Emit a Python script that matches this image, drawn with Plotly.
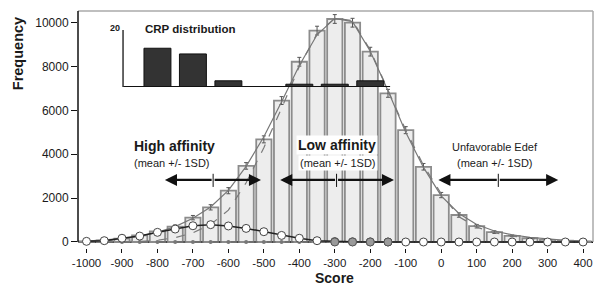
import plotly.graph_objects as go

# ---------------- data ----------------
scores = [-1000, -950, -900, -850, -800, -750, -700, -650, -600, -550, -500, -450, -400,
          -350, -300, -250, -200, -150, -100, -50, 0, 50, 100, 150, 200, 250, 300, 350, 400]
freq = [30, 70, 150, 300, 480, 700, 1110, 1580, 2340, 3470, 4680, 6450, 8220,
        9640, 10170, 10000, 8680, 6780, 5100, 3430, 2140, 1230, 720, 450, 280, 170, 100, 60, 30]
freq_err = [20, 30, 40, 50, 60, 80, 100, 120, 140, 150, 160, 180, 200,
            200, 200, 200, 200, 180, 160, 150, 120, 100, 80, 60, 40, 30, 20, 20, 10]
fit_solid = [40, 80, 150, 270, 440, 700, 1080, 1600, 2350, 3450, 4800, 6400, 8050,
             9450, 10200, 10050, 8700, 6900, 5000, 3400, 2100, 1300, 800, 500, 330, 210, 130, 80, 50]
fit_dashed = [0, 0, 10, 30, 80, 200, 420, 800, 1450, 2700, 4300, 6100, 8000,
              9500, 10200, 10100, 8750, 6900, 5100, 3500, 2200, 1150, 680, 420, 270, 170, 110, 70, 40]
high_aff = [30, 60, 170, 270, 440, 590, 740, 790, 730, 620, 470, 300, 170,
            60, 20, 10, 5, 0, 0, 0, 0, 0, 0, 0, 0, 0, 0, 0, 0]
low_aff_x = [-300, -250, -200, -150]
low_aff = [0, 0, 0, 0]
baseline = [0] * len(scores)

crp_x = [-800, -700, -600, -400, -300, -200]
crp_y = [13.6, 11.6, 2.2, 1.0, 1.0, 2.2]

x_ticks = list(range(-1000, 401, 100))
x_ticktext = ["-1000", "-900", "-800", "-700", "-600", "-500", "-400", "-300",
              "-200", "-100", "0", "100", "200", "300", "400"]
y_ticks = [0, 2000, 4000, 6000, 8000, 10000]
y_ticktext = ["0", "2000", "4000", "6000", "8000", "10000"]

arrows = [  # (left end, centre, right end)
    (-779, -643, -508),
    (-454, -295, -133),
    (-8, 161, 330),
]
arrow_y = 2830

FONT = "Arial, Liberation Sans, sans-serif"

fig = go.Figure()

fig.add_trace(go.Bar(
    x=scores, y=freq, width=43,
    marker=dict(color="#ededed", line=dict(color="#8c8c8c", width=1.8)),
    error_y=dict(type="data", array=freq_err, color="#555", thickness=1, width=2),
    xaxis="x", yaxis="y", showlegend=False))

fig.add_trace(go.Scatter(
    x=scores, y=baseline, mode="lines+markers",
    line=dict(color="#555", width=1, dash="dash"),
    marker=dict(size=4, color="#777"), showlegend=False))

fig.add_trace(go.Scatter(
    x=scores, y=fit_dashed, mode="lines",
    line=dict(color="#7a7a7a", width=1.2, dash="dash"), showlegend=False))

fig.add_trace(go.Scatter(
    x=scores, y=fit_solid, mode="lines",
    line=dict(color="#777", width=1.2), showlegend=False))

fig.add_trace(go.Scatter(
    x=scores, y=high_aff, mode="lines+markers",
    line=dict(color="#222", width=1.5),
    marker=dict(size=8, color="white", line=dict(color="#444", width=1)),
    showlegend=False))

fig.add_trace(go.Scatter(
    x=low_aff_x, y=low_aff, mode="markers",
    marker=dict(size=8, color="#9a9a9a", line=dict(color="#555", width=1)),
    showlegend=False))

# inset CRP distribution
fig.add_trace(go.Bar(
    x=crp_x, y=crp_y, width=76,
    marker=dict(color="#333", line=dict(color="#111", width=1)),
    xaxis="x", yaxis="y2", showlegend=False))

shapes = []
# inset axes
shapes.append(dict(type="line", xref="x", yref="y2", x0=-897, x1=-144, y0=0, y1=0,
                   line=dict(color="#111", width=2)))
shapes.append(dict(type="line", xref="x", yref="y2", x0=-897, x1=-897, y0=0, y1=20,
                   line=dict(color="#333", width=1.5)))
# frame
shapes.append(dict(type="line", xref="paper", yref="paper", x0=0, x1=1, y0=1, y1=1,
                   line=dict(color="#aaa", width=1.5)))
shapes.append(dict(type="line", xref="paper", yref="y", x0=1, x1=1, y0=0, y1=10534,
                   line=dict(color="#aaa", width=1.5)))
shapes.append(dict(type="line", xref="paper", yref="y", x0=0, x1=0, y0=0, y1=10534,
                   line=dict(color="#111", width=1.5)))
# arrow centre ticks
for l, c, r in arrows:
    shapes.append(dict(type="line", xref="x", yref="y", x0=c, x1=c, y0=arrow_y - 320, y1=arrow_y + 280,
                       line=dict(color="#111", width=1)))

annotations = []
for l, c, r in arrows:
    for end in (l, r):
        annotations.append(dict(x=end, y=arrow_y, ax=c, ay=arrow_y, xref="x", yref="y",
                                axref="x", ayref="y", text="", showarrow=True,
                                arrowhead=2, arrowsize=1.1, arrowwidth=2.2, arrowcolor="#111",
                                standoff=0))

def txt(x, y, s, size, bold=False, bg=None, xref="x", yref="y"):
    d = dict(x=x, y=y, xref=xref, yref=yref, text=("<b>%s</b>" % s) if bold else s,
             showarrow=False, font=dict(family=FONT, size=size, color="#1a1a1a"),
             xanchor="center", yanchor="middle")
    if bg:
        d["bgcolor"] = bg
        d["borderpad"] = 1
    return d

annotations.append(txt(-751, 4390, "High affinity", 14, True))
annotations.append(txt(-759, 3590, "(mean +/- 1SD)", 11))
annotations.append(txt(-295, 4420, "Low affinity", 14, True, bg="white"))
annotations.append(txt(-291, 3600, "(mean +/- 1SD)", 11, bg="white"))
annotations.append(txt(152, 4350, "Unfavorable Edef", 11))
annotations.append(txt(152, 3600, "(mean +/- 1SD)", 11))
annotations.append(txt(-708, 0.926, "CRP distribution", 11.5, True, yref="paper"))
annotations.append(txt(-920, 0.928, "20", 9, True, yref="paper"))
annotations.append(dict(x=17.5, y=53.7, xref="paper", yref="paper", text="<b>Frequency</b>",
                        showarrow=False, textangle=-90,
                        font=dict(family=FONT, size=14.5, color="#1a1a1a")))
annotations.append(dict(x=334, y=278, xref="paper", yref="paper", text="<b>Score</b>",
                        showarrow=False, font=dict(family=FONT, size=14, color="#1a1a1a")))

# convert pixel-positioned title annotations to paper coordinates
W, H = 594, 287
L, R, T, B = 78, 1, 11, 39
for a in annotations[-2:]:
    a["x"] = (a["x"] - L) / (W - L - R)
    a["y"] = ((H - B) - a["y"]) / (H - T - B)
    a["xanchor"] = "center"
    a["yanchor"] = "middle"

fig.update_layout(
    width=W, height=H,
    margin=dict(l=L, r=R, t=T, b=B),
    paper_bgcolor="white", plot_bgcolor="rgba(0,0,0,0)",
    barmode="overlay",
    font=dict(family=FONT, color="#1a1a1a"),
    xaxis=dict(range=[-1024, 428], tickvals=x_ticks, ticktext=x_ticktext, ticks="outside", ticklen=4,
               tickcolor="#111", showgrid=False, zeroline=False, showline=False,
               tickfont=dict(size=11.5), fixedrange=True),
    yaxis=dict(range=[-274, 10534], tickvals=y_ticks, ticktext=y_ticktext, ticks="outside", ticklen=6,
               tickcolor="#111", showgrid=False, zeroline=True, zerolinecolor="#111",
               zerolinewidth=1.5, showline=False, tickfont=dict(size=12)),
    yaxis2=dict(domain=[0.679, 0.920], range=[0, 20], anchor="x", visible=False),
    shapes=shapes,
    annotations=annotations,
    showlegend=False,
)

fig.write_html("out.html", config={"displayModeBar": False},
               post_script="document.body.style.margin='0px';")
